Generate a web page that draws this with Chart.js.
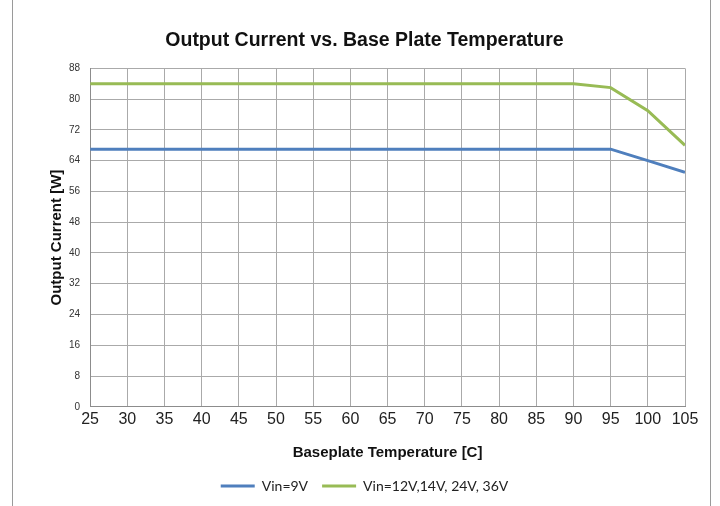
<!DOCTYPE html>
<html>
<head>
<meta charset="utf-8">
<script src="https://cdn.jsdelivr.net/npm/chart.js@4/dist/chart.umd.min.js"></script>
<style>
    html, body { margin: 0; padding: 0; background: #fff; }
    #frame {
        position: absolute; left: 12px; top: 0; width: 699px; height: 506px;
        border-left: 1px solid #9a9a9a; border-right: 1px solid #9a9a9a;
        box-sizing: border-box;
    }
    #wrap { position: absolute; left: 0; top: 0; width: 720px; height: 506px; }
</style>
</head>
<body>
<div id="frame"></div>
<div id="wrap"><canvas id="chart" width="720" height="506"></canvas></div>
<script>
// Chart data
const temps = [25, 30, 35, 40, 45, 50, 55, 60, 65, 70, 75, 80, 85, 90, 95, 100, 105];
const vin9 = [67, 67, 67, 67, 67, 67, 67, 67, 67, 67, 67, 67, 67, 67, 67, 64, 61];
const vinHigh = [84, 84, 84, 84, 84, 84, 84, 84, 84, 84, 84, 84, 84, 84, 83, 77, 68];
const seriesNames = ['Vin=9V', 'Vin=12V,14V, 24V, 36V'];

const toPoints = values => temps.map((t, i) => ({ x: t, y: values[i] }));

const ctx = document.getElementById('chart').getContext('2d');
new Chart(ctx, {
    type: 'line',
    data: {
        datasets: [
            {
                label: seriesNames[0],
                data: toPoints(vin9),
                borderColor: '#4f7fbd',
                backgroundColor: '#4f7fbd',
                borderWidth: 3,
                pointRadius: 0,
                pointStyle: 'line',
                tension: 0
            },
            {
                label: seriesNames[1],
                data: toPoints(vinHigh),
                borderColor: '#98bb55',
                backgroundColor: '#98bb55',
                borderWidth: 3,
                pointRadius: 0,
                pointStyle: 'line',
                tension: 0
            }
        ]
    },
    options: {
        responsive: false,
        animation: false,
        layout: { padding: { left: 44, right: 35, top: 9, bottom: 3 } },
        plugins: {
            title: {
                display: true,
                text: 'Output Current vs. Base Plate Temperature',
                color: '#111',
                font: { family: 'Liberation Sans', size: 19.5, weight: 'bold' },
                padding: { top: 20, bottom: 16 }
            },
            legend: {
                position: 'bottom',
                labels: {
                    usePointStyle: true,
                    pointStyleWidth: 34,
                    color: '#222',
                    font: { family: 'Lato', size: 14 },
                    padding: 14
                }
            },
            tooltip: { enabled: false }
        },
        scales: {
            x: {
                type: 'linear',
                min: 25,
                max: 105,
                ticks: {
                    stepSize: 5,
                    color: '#222',
                    font: { family: 'Liberation Sans', size: 16 },
                    padding: 3
                },
                grid: { color: '#aaaaaa', lineWidth: 1, tickLength: 0 },
                border: { color: '#8c8c8c' },
                title: {
                    display: true,
                    text: 'Baseplate Temperature [C]',
                    color: '#111',
                    font: { family: 'Liberation Sans', size: 15, weight: 'bold' },
                    padding: { top: 12, bottom: 3 }
                }
            },
            y: {
                min: 0,
                max: 88,
                ticks: {
                    stepSize: 8,
                    color: '#333',
                    font: { family: 'Liberation Sans', size: 10 },
                    padding: 10
                },
                grid: { color: '#aaaaaa', lineWidth: 1, tickLength: 0 },
                border: { color: '#8c8c8c' },
                title: {
                    display: true,
                    text: 'Output Current [W]',
                    color: '#111',
                    font: { family: 'Liberation Sans', size: 15, weight: 'bold' },
                    padding: { top: 4, bottom: -7 }
                }
            }
        }
    }
});
</script>
</body>
</html>
